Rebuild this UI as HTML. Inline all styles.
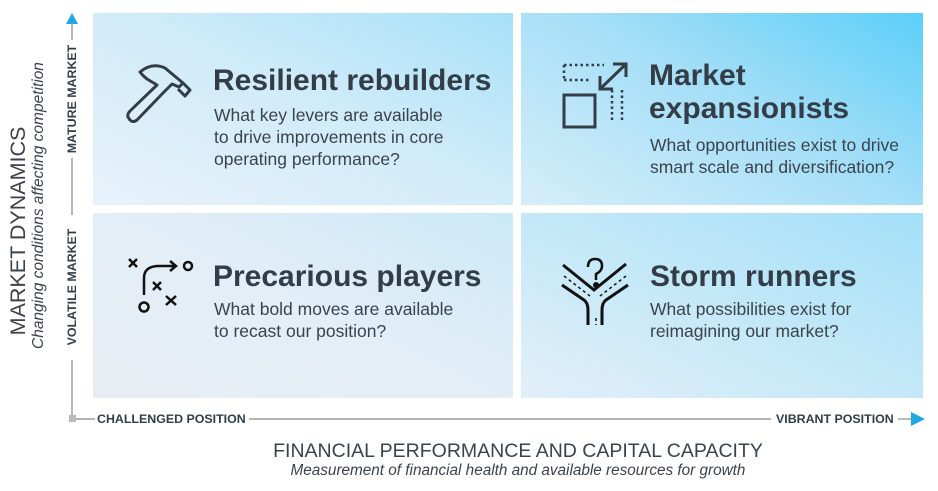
<!DOCTYPE html>
<html><head><meta charset="utf-8"><style>
body{margin:0;width:938px;height:491px;background:#fff;position:relative;overflow:hidden;font-family:"Liberation Sans",Arial,sans-serif;color:#333d47}
.q{position:absolute}
.t{position:absolute;font-weight:bold;font-size:30px;line-height:33px;color:#333d47;white-space:nowrap}
.b{position:absolute;font-size:17.5px;line-height:22px;color:#3a434c;white-space:nowrap}
.rot{position:absolute;transform:rotate(-90deg);transform-origin:center;white-space:nowrap;text-align:center}
.ax{font-weight:bold;font-size:12.4px;color:#333d47;white-space:nowrap}
</style></head><body>
<div class="q" style="left:93px;top:13px;width:420px;height:192px;background:linear-gradient(205deg,#a6e1f8 0%,#cfebf9 45%,#e9f2fa 100%)"></div>
<div class="q" style="left:521px;top:13px;width:402px;height:192px;background:linear-gradient(210deg,#5ccff8 0%,#a3def7 45%,#d6eef9 100%)"></div>
<div class="q" style="left:93px;top:213px;width:420px;height:185px;background:linear-gradient(205deg,#cbe9f8 0%,#e3eef7 50%,#e9edf3 100%)"></div>
<div class="q" style="left:521px;top:213px;width:402px;height:185px;background:linear-gradient(205deg,#a3e0f8 0%,#c4e8f8 50%,#e2eff9 100%)"></div>

<svg width="938" height="491" style="position:absolute;left:0;top:0">
<line x1="72" y1="24" x2="72" y2="40" stroke="#888" stroke-width="1.2"/>
<line x1="72" y1="158" x2="72" y2="215" stroke="#888" stroke-width="1.2"/>
<line x1="72" y1="360" x2="72" y2="416" stroke="#888" stroke-width="1.2"/>
<polygon points="72,13 66,24 78,24" fill="#1ea7e1"/>
<rect x="69" y="415" width="7" height="7" fill="#bbb"/>
<line x1="76" y1="419" x2="95" y2="419" stroke="#888" stroke-width="1.2"/>
<line x1="249" y1="419" x2="771" y2="419" stroke="#888" stroke-width="1.2"/>
<line x1="898" y1="419" x2="912" y2="419" stroke="#888" stroke-width="1.2"/>
<polygon points="925,419 911,412 911,426" fill="#1ea7e1"/>
<!-- hammer -->
<g fill="none" stroke="#333d47" stroke-width="3" stroke-linejoin="round">
<path d="M140,72 Q152,62 165,68 L183,83 L179,87 L172,84 L163,93 L137,120 Q133,123 130,120 L128,117 Q127,114 130,111 L157,85 L147,79 Q143,76 140,72Z"/>
<path d="M183,83 L190,90 L185,96 L178,89"/>
</g>
<!-- expand -->
<g fill="none" stroke="#333d47">
<path d="M564,65 H604 M564,65 V80 M564,80 H590 M612,90 V122 M622,90 V122" stroke-width="2.5" stroke-dasharray="2.5 3"/>
<rect x="564" y="95" width="31" height="32" stroke-width="3"/>
<path d="M600,89 L626,64 M613,64 H626 V77 M600,76 V89 H613" stroke-width="3"/>
</g>
<!-- plays -->
<g fill="none" stroke="#111" stroke-width="2.5">
<path d="M129,259 L137,267 M137,259 L129,267"/>
<path d="M153,282 L161,290 M161,282 L153,290"/>
<path d="M166,296 L176,305 M176,296 L166,305"/>
<circle cx="188" cy="266" r="4"/>
<circle cx="144" cy="307" r="4.5"/>
<path d="M144,295 V278 Q144,267 157,266 H176 M170,261 L176,266 L170,271"/>
</g>
<!-- storm -->
<g fill="none" stroke="#111" stroke-width="3">
<path d="M563,265 L594,290 L626,264"/>
<path d="M562,285 L584,300 Q588,303 588,310 V325"/>
<path d="M628,285 L606,300 Q602,303 602,310 V325"/>
<path d="M564,276 L590,296 M596,318 V325 M626,276 L600,296" stroke-width="1.5" stroke-dasharray="3 3"/>
<path d="M588,267 Q588,259 595,259 Q602,259 602,266 Q602,271 596,274 V280" stroke-width="2.5"/>
<circle cx="596" cy="285" r="1.5" fill="#111"/>
</g>
</svg>

<div class="t" style="left:213px;top:64px">Resilient rebuilders</div>
<div class="b" style="left:214px;top:104px">What key levers are available<br>to drive improvements in core<br>operating performance?</div>
<div class="t" style="left:649px;top:59px">Market<br>expansionists</div>
<div class="b" style="left:650px;top:134px">What opportunities exist to drive<br>smart scale and diversification?</div>
<div class="t" style="left:213px;top:260px">Precarious players</div>
<div class="b" style="left:214px;top:298px">What bold moves are available<br>to recast our position?</div>
<div class="t" style="left:650px;top:260px">Storm runners</div>
<div class="b" style="left:650px;top:298px">What possibilities exist for<br>reimagining our market?</div>

<div class="rot ax" style="left:17px;top:92px;width:110px;height:14px;line-height:14px">MATURE MARKET</div>
<div class="rot ax" style="left:12px;top:280px;width:120px;height:14px;line-height:14px">VOLATILE MARKET</div>
<div class="rot" style="left:-102px;top:219px;width:240px;height:24px;line-height:24px;font-size:21.5px;color:#3a434c">MARKET DYNAMICS</div>
<div class="rot" style="left:-101px;top:200px;width:280px;height:18px;line-height:18px;font-size:15.5px;font-style:italic;color:#3a434c">Changing conditions affecting competition</div>

<div class="ax" style="position:absolute;left:97px;top:412px">CHALLENGED POSITION</div>
<div class="ax" style="position:absolute;left:776px;top:412px">VIBRANT POSITION</div>
<div style="position:absolute;left:0;width:1036px;top:440px;text-align:center;font-size:19.5px;color:#3a434c">FINANCIAL PERFORMANCE AND CAPITAL CAPACITY</div>
<div style="position:absolute;left:0;width:1036px;top:462px;text-align:center;font-size:15.3px;font-style:italic;color:#3a434c">Measurement of financial health and available resources for growth</div>
</body></html>
